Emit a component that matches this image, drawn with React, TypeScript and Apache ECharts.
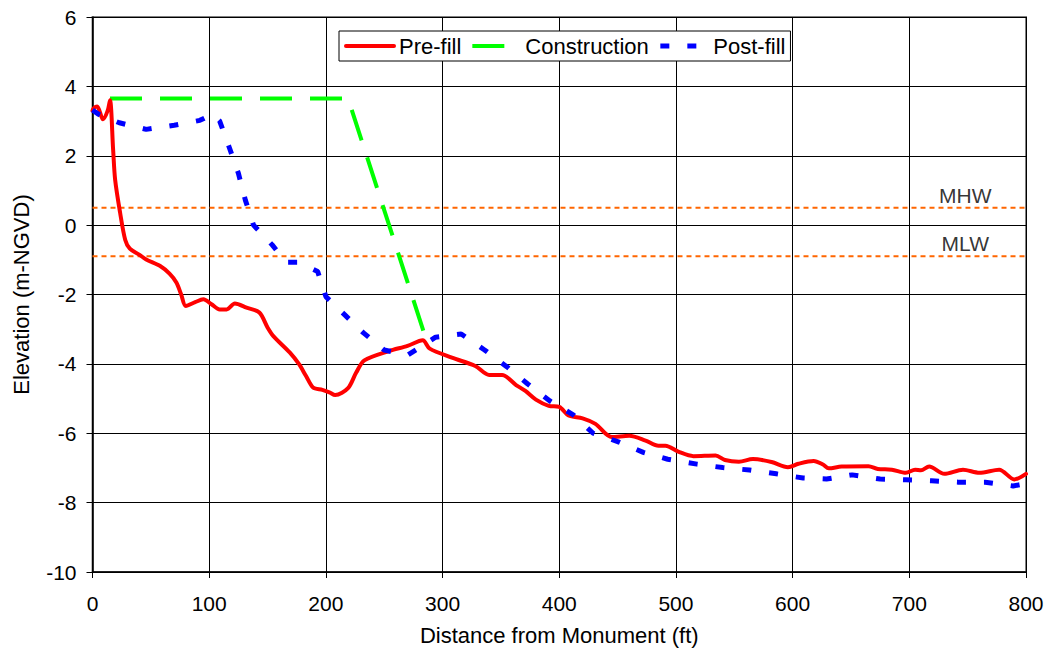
import React, { useEffect, useRef } from "react";
import * as echarts from "echarts";

const xTicks = { min: 0, max: 800, interval: 100 };
const yTicks = { min: -10, max: 6, interval: 2 };

const preFill: [number, number][] = [
  [0, 3.3], [1, 3.37], [4, 3.42], [9, 3.05], [13, 3.3], [15, 3.6], [17.7, 2.16], [19.4, 1.31],
  [23.7, 0.35], [28, -0.42], [32, -0.68], [40, -0.85], [46, -0.99], [58, -1.18], [66, -1.4],
  [72, -1.66], [76, -2.0], [80, -2.33], [88, -2.22], [95, -2.14], [102, -2.28], [109, -2.43],
  [115, -2.43], [122, -2.26], [132, -2.38], [143, -2.52], [150, -2.95], [155, -3.2], [169, -3.67],
  [177, -4.01], [183, -4.35], [189, -4.68], [197, -4.75], [203, -4.82], [208, -4.9], [219, -4.7],
  [226, -4.25], [233, -3.9], [254, -3.63], [270, -3.48], [283, -3.32], [289, -3.56], [308, -3.82],
  [328, -4.06], [340, -4.32], [351, -4.32], [363, -4.61], [371, -4.78], [380, -5.03], [391, -5.21],
  [400, -5.24], [408, -5.49], [420, -5.57], [431, -5.73], [445, -6.11], [460, -6.07], [474, -6.21],
  [485, -6.36], [491, -6.36], [502, -6.53], [515, -6.66], [534, -6.64], [542, -6.77], [554, -6.82],
  [566, -6.74], [582, -6.83], [596, -6.98], [605, -6.88], [618, -6.8], [626, -6.9], [631, -7.01],
  [642, -6.96], [665, -6.95], [673, -7.03], [685, -7.05], [697, -7.14], [705, -7.05], [710, -7.07],
  [717, -6.96], [730, -7.17], [746, -7.05], [760, -7.14], [777, -7.05], [790, -7.33], [800, -7.17],
];

const construction: [number, number][] = [
  [15, 3.65], [219, 3.65], [286, -3.3],
];

const postFill: [number, number][] = [
  [0, 3.32], [5, 3.2], [23, 2.95], [46, 2.76], [70, 2.88], [92, 3.02], [103, 3.2], [109, 3.0],
  [117, 2.26], [125, 1.5], [131, 0.72], [138, 0.0], [154, -0.57], [166, -1.07], [176, -1.07],
  [193, -1.34], [200, -2.06], [216, -2.58], [232, -3.1], [250, -3.6], [270, -3.75], [294, -3.23],
  [316, -3.14], [336, -3.6], [355, -4.08], [373, -4.58], [392, -5.07], [412, -5.47], [429, -6.0],
  [450, -6.24], [472, -6.55], [493, -6.75], [518, -6.89], [540, -6.99], [563, -7.06], [586, -7.17],
  [609, -7.29], [629, -7.32], [651, -7.2], [675, -7.32], [697, -7.34], [719, -7.37], [742, -7.41],
  [765, -7.41], [789, -7.52], [800, -7.45],
];

const tideNames = ["MHW", "MLW"];
const tideValues = [0.5, -0.9];

const FONT = "'Liberation Sans', Arial, sans-serif";

export default function App() {
  const ref = useRef<HTMLDivElement>(null);
  useEffect(() => {
    document.body.style.margin = "0";
    if (!ref.current) return;
    const chart = echarts.init(ref.current, undefined, { renderer: "svg" });
    const tideSeries = tideValues.map((v, i) => ({
      name: tideNames[i],
      type: "line",
      data: [[xTicks.min, v], [xTicks.max, v]],
      symbol: "none",
      silent: true,
      lineStyle: { color: "#ff6600", width: 2, type: [5, 4] },
      z: 2,
    }));
    const tideLabels = {
      name: "tideLabels",
      type: "scatter",
      symbolSize: 0,
      silent: true,
      data: tideValues.map((v, i) => ({ value: [748, v], name: tideNames[i] })),
      label: {
        show: true,
        position: "top",
        distance: 2,
        formatter: (p: any) => p.name,
        color: "#000",
        fontSize: 21,
        fontFamily: FONT,
      },
    };
    chart.setOption({
      animation: false,
      backgroundColor: "#fff",
      textStyle: { fontFamily: FONT },
      grid: {
        left: 92.5,
        right: 23,
        top: 17,
        bottom: 82,
        show: true,
        borderColor: "#808080",
        borderWidth: 2,
        backgroundColor: "#fff",
      },
      legend: {
        data: [
          { name: "Pre-fill", lineStyle: { width: 4, cap: "round" } },
          { name: "Construction", lineStyle: { width: 4 } },
          { name: "Post-fill", lineStyle: { width: 5 } },
        ],
        left: 339,
        top: 31,
        padding: [4, 5, 4, 5],
        itemWidth: 48,
        itemHeight: 14,
        itemGap: 9,
        borderColor: "#000",
        borderWidth: 1,
        backgroundColor: "#fff",
        borderRadius: 0,
        itemStyle: { opacity: 0 },
        lineStyle: { width: 4 },
        textStyle: { fontSize: 22, color: "#000", fontFamily: FONT, padding: [0, 0, 0, 0] },
      },
      xAxis: {
        type: "value",
        min: xTicks.min,
        max: xTicks.max,
        interval: xTicks.interval,
        name: "Distance from Monument (ft)",
        nameLocation: "middle",
        nameGap: 52,
        nameTextStyle: { fontSize: 22, color: "#000", fontFamily: FONT },
        axisLine: { show: true, onZero: false, lineStyle: { color: "#000", width: 1.5 } },
        axisTick: { show: true, length: 6, lineStyle: { color: "#000" } },
        axisLabel: { fontSize: 21, color: "#000", margin: 21, fontFamily: FONT },
        splitLine: { show: true, lineStyle: { color: "#000", width: 1 } },
      },
      yAxis: {
        type: "value",
        min: yTicks.min,
        max: yTicks.max,
        interval: yTicks.interval,
        name: "Elevation (m-NGVD)",
        nameLocation: "middle",
        nameGap: 60,
        nameTextStyle: { fontSize: 22, color: "#000", fontFamily: FONT },
        axisLine: { show: true, onZero: false, lineStyle: { color: "#000", width: 1.5 } },
        axisTick: { show: true, length: 6, lineStyle: { color: "#000" } },
        axisLabel: { fontSize: 21, color: "#000", margin: 16, fontFamily: FONT },
        splitLine: { show: true, lineStyle: { color: "#000", width: 1 } },
      },
      series: [
        ...tideSeries,
        tideLabels,
        {
          name: "Pre-fill",
          type: "line",
          data: preFill,
          symbol: "none",
          smooth: 0.3,
          lineStyle: { color: "#ff0000", width: 4, cap: "round" },
          itemStyle: { color: "#ff0000" },
          z: 5,
        },
        {
          name: "Construction",
          type: "line",
          data: construction,
          symbol: "none",
          lineStyle: { color: "#00ff00", width: 4, type: [32, 18], cap: "butt" },
          itemStyle: { color: "#00ff00" },
          z: 4,
        },
        {
          name: "Post-fill",
          type: "line",
          data: postFill,
          symbol: "none",
          lineStyle: { color: "#0000ff", width: 5, type: [9, 18], cap: "butt" },
          itemStyle: { color: "#0000ff" },
          z: 6,
        },
      ],
    });
    return () => chart.dispose();
  }, []);
  return <div ref={ref} style={{ width: 1049, height: 654 }} />;
}
